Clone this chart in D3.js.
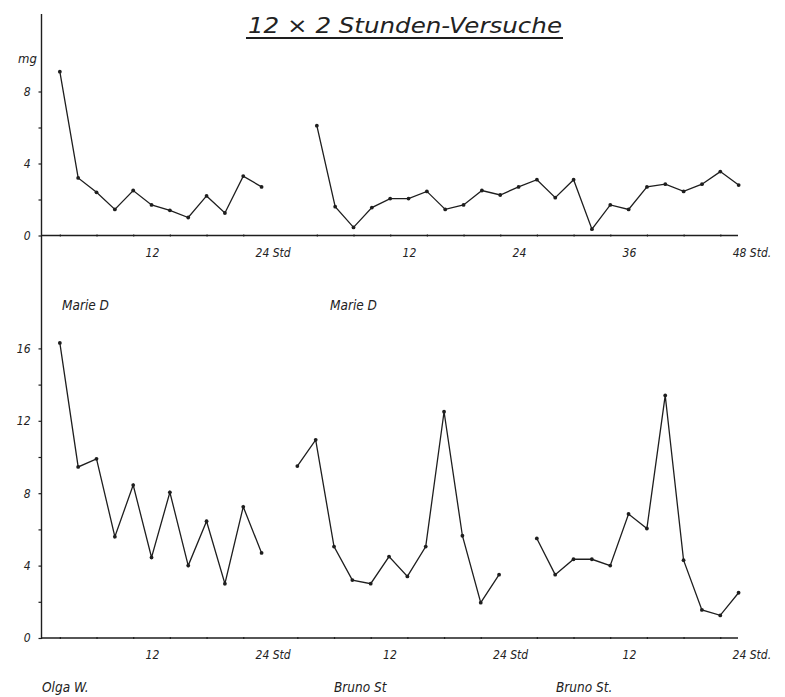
<!DOCTYPE html>
<html><head><meta charset="utf-8">
<script src="https://cdn.jsdelivr.net/npm/d3@7"></script>
<style>
body{margin:0;background:#fff;}
svg text{font-family:"DejaVu Sans Condensed","DejaVu Sans",sans-serif;font-style:italic;fill:#222;}
</style></head><body>
<svg id="c" width="785" height="697"></svg>
<script>
// ---- data (mg per 2-hour interval) ----
const hours24 = [2,4,6,8,10,12,14,16,18,20,22,24];
const hours48 = [2,4,6,8,10,12,14,16,18,20,22,24,26,28,30,32,34,36,38,40,42,44,46,48];
const marieD24 = [9.1,3.2,2.4,1.45,2.5,1.7,1.4,1.0,2.2,1.25,3.3,2.7];
const marieD48 = [6.1,1.6,0.45,1.55,2.05,2.05,2.45,1.45,1.7,2.5,2.25,2.7,3.1,2.1,3.1,0.35,1.7,1.45,2.7,2.85,2.45,2.85,3.55,2.8];
const olgaW = [16.3,9.45,9.9,5.6,8.45,4.45,8.05,4.0,6.45,3.0,7.25,4.7];
const brunoSt1 = [9.5,10.95,5.05,3.2,3.0,4.5,3.4,5.05,12.5,5.65,1.95,3.5];
const brunoSt2 = [5.5,3.5,4.35,4.35,4.0,6.85,6.05,13.4,4.3,1.55,1.25,2.5];
const topYTicks = [0,2,4,6,8];
const topYLabels = {0:"0",4:"4",8:"8"};
const botYTicks = [0,2,4,6,8,10,12,14,16];
const botYLabels = {0:"0",4:"4",8:"8",12:"12",16:"16"};
const title = "12 × 2  Stunden-Versuche";

const svg = d3.select("#c");
const ink = "#1e1e1e";

// y scales
const yTop = d3.scaleLinear().domain([0,10]).range([235.5,55.5]);
const yBot = d3.scaleLinear().domain([0,16]).range([638,348.4]);

// title
svg.append("text").attr("x",248).attr("y",33).attr("font-size",21)
  .attr("textLength",314).attr("lengthAdjust","spacingAndGlyphs").text(title);
svg.append("line").attr("x1",246).attr("x2",563).attr("y1",38).attr("y2",38)
  .attr("stroke",ink).attr("stroke-width",2);

// vertical axis (continuous)
svg.append("line").attr("x1",41.5).attr("x2",41.5).attr("y1",14).attr("y2",639)
  .attr("stroke",ink).attr("stroke-width",1.4);

function yAxis(scale, ticks, labels){
  const g = svg.append("g").attr("transform","translate(41.5,0)")
    .call(d3.axisLeft(scale).tickValues(ticks).tickSize(3).tickPadding(8)
      .tickFormat(d => labels[d] || ""));
  g.select(".domain").remove();
  g.selectAll(".tick line").attr("stroke",ink).attr("stroke-width",1.2);
  g.selectAll(".tick text").attr("font-size",12).attr("fill","#222")
    .attr("font-family","DejaVu Sans Condensed, DejaVu Sans, sans-serif")
    .attr("font-style","italic");
}
yAxis(yTop, topYTicks, topYLabels);
yAxis(yBot, botYTicks, botYLabels);
svg.append("text").attr("x",18).attr("y",63).attr("font-size",13).text("mg");

// baselines
svg.append("line").attr("x1",41.5).attr("x2",738).attr("y1",yTop(0)).attr("y2",yTop(0))
  .attr("stroke",ink).attr("stroke-width",1.4);
svg.append("line").attr("x1",41.5).attr("x2",738).attr("y1",yBot(0)).attr("y2",yBot(0))
  .attr("stroke",ink).attr("stroke-width",1.4);

function panel(x0, span, hours, vals, yScale, labels){
  const x = d3.scaleLinear().domain([0,span]).range([x0, x0 + span*9.17]);
  const g = svg.append("g").attr("transform",`translate(0,${yScale(0)})`)
    .call(d3.axisBottom(x).tickValues(hours.filter(h=>h%4===2)).tickSize(2).tickFormat(""));
  g.select(".domain").remove();
  g.selectAll(".tick line").attr("stroke",ink).attr("stroke-width",1.2).attr("transform","translate(0,-1)");
  labels.forEach(([h, t]) => {
    svg.append("text").attr("x", x(h) - 6).attr("y", yScale(0) + 21)
      .attr("font-size", 12).text(t);
  });
  const line = d3.line().x((d,i)=>x(hours[i])).y(d=>yScale(d));
  svg.append("path").datum(vals).attr("d",line).attr("fill","none")
    .attr("stroke",ink).attr("stroke-width",1.3).attr("stroke-linejoin","miter");
  svg.append("g").selectAll("circle").data(vals).join("circle")
    .attr("cx",(d,i)=>x(hours[i])).attr("cy",d=>yScale(d)).attr("r",1.9).attr("fill",ink);
}

panel(41.5, 24, hours24, marieD24, yTop, [[12,"12"],[24,"24 Std"]]);
panel(298.5, 48, hours48, marieD48, yTop, [[12,"12"],[24,"24"],[36,"36"],[48,"48 Std."]]);
panel(41.5, 24, hours24, olgaW, yBot, [[12,"12"],[24,"24 Std"]]);
panel(279, 24, hours24, brunoSt1, yBot, [[12,"12"],[24,"24 Std"]]);
panel(518.5, 24, hours24, brunoSt2, yBot, [[12,"12"],[24,"24 Std."]]);

// names
const names = [["Marie D",62,310],["Marie D",330,310],["Olga W.",42,692],["Bruno St",334,692],["Bruno St.",556,692]];
names.forEach(([t,x,y]) => svg.append("text").attr("x",x).attr("y",y).attr("font-size",13.5).text(t));
</script>
</body></html>
